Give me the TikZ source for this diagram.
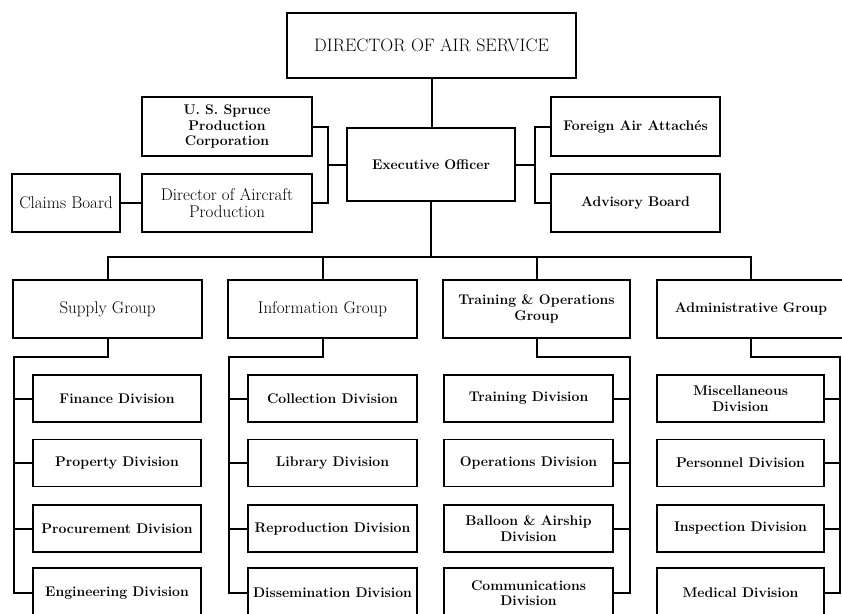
\documentclass[tikz,border=0pt]{standalone}
\usepackage{fontspec}
\begin{document}
\begin{tikzpicture}[x=1pt,y=-1pt,
  bx/.style 2 args={draw, line width=1.3pt, minimum width=#1, minimum height=#2, align=center, inner sep=2pt},
  bf/.style={font=\fontsize{14}{15.5}\selectfont\bfseries},
  rm/.style={font=\fontsize{17}{17}\selectfont},
  ln/.style={line width=2pt}]
\useasboundingbox (0,0) rectangle (842,613);
\clip (0,0) rectangle (842,613);
% top
\node[bx={289pt}{65pt}, font=\fontsize{18}{20}\selectfont] (dir) at (431.5,45.5) {DIRECTOR OF AIR SERVICE};
\node[bx={168pt}{73pt}, bf] (exec) at (431,164.5) {Executive Officer};
\node[bx={170pt}{59pt}, bf] (spruce) at (227,126.5) {U. S. Spruce\\Production\\Corporation};
\node[bx={170pt}{58pt}, rm] (dap) at (227,203) {Director of Aircraft\\Production};
\node[bx={108pt}{58pt}, rm] (claims) at (66,203) {Claims Board};
\node[bx={169pt}{59pt}, bf] (foreign) at (635.5,126.5) {Foreign Air Attachés};
\node[bx={169pt}{58pt}, bf] (adv) at (635.5,203) {Advisory Board};
% groups
\node[bx={189pt}{58pt}, rm] (supply) at (107.5,309) {Supply Group};
\node[bx={189pt}{58pt}, rm] (info) at (322.5,309) {Information Group};
\node[bx={187pt}{58pt}, bf] (tog) at (536.5,309) {Training \& Operations\\Group};
\node[bx={188pt}{58pt}, bf] (admin) at (751,309) {Administrative Group};
% supply divisions
\node[bx={168pt}{47pt}, bf] (fin) at (117,398.5) {Finance Division};
\node[bx={168pt}{47pt}, bf] (prop) at (117,463) {Property Division};
\node[bx={168pt}{47pt}, bf] (proc) at (117,528.5) {Procurement Division};
\node[bx={168pt}{50pt}, bf] (eng) at (117,593) {Engineering Division};
% info divisions
\node[bx={169pt}{47pt}, bf] (coll) at (332.5,398.5) {Collection Division};
\node[bx={169pt}{47pt}, bf] (lib) at (332.5,463) {Library Division};
\node[bx={169pt}{47pt}, bf] (repr) at (332.5,528.5) {Reproduction Division};
\node[bx={169pt}{50pt}, bf] (diss) at (332.5,593) {Dissemination Division};
% training & operations divisions
\node[bx={169pt}{47pt}, bf] (train) at (528.5,398.5) {Training Division};
\node[bx={169pt}{47pt}, bf] (oper) at (528.5,463) {Operations Division};
\node[bx={169pt}{47pt}, bf] (ball) at (528.5,528.5) {Balloon \& Airship\\Division};
\node[bx={169pt}{50pt}, bf] (comm) at (528.5,593) {Communications\\Division};
% administrative divisions
\node[bx={167pt}{47pt}, bf] (misc) at (740.5,398.5) {Miscellaneous\\Division};
\node[bx={167pt}{47pt}, bf] (pers) at (740.5,463) {Personnel Division};
\node[bx={167pt}{47pt}, bf] (insp) at (740.5,528.5) {Inspection Division};
\node[bx={167pt}{50pt}, bf] (med) at (740.5,593) {Medical Division};
% connectors top
\draw[ln] (dir.south) -- (dir.south |- exec.north);
\coordinate (lbx) at (328,164.5);
\coordinate (rbx) at (535,164.5);
\draw[ln] (spruce.east) -| (lbx) |- (dap.east);
\draw[ln] (lbx) -- (exec.west);
\draw[ln] (foreign.west) -| (rbx) |- (adv.west);
\draw[ln] (rbx) -- (exec.east);
\draw[ln] (claims.east) -- (dap.west);
% bus
\coordinate (bus) at (431,257);
\draw[ln] (exec.south) -- (bus);
\draw[ln] (supply.north) |- (bus) -| (admin.north);
\draw[ln] (info.north) -- (info.north |- bus);
\draw[ln] (tog.north) -- (tog.north |- bus);
% sub-buses
\coordinate (sbus) at (14,357);
\coordinate (ibus) at (229,357);
\coordinate (tbus) at (630,357);
\coordinate (abus) at (840,357);
\draw[ln] (supply.south) |- (sbus) |- (eng.west);
\foreach \n in {fin,prop,proc} \draw[ln] (\n.west) -- (\n.west -| sbus);
\draw[ln] (info.south) |- (ibus) |- (diss.west);
\foreach \n in {coll,lib,repr} \draw[ln] (\n.west) -- (\n.west -| ibus);
\draw[ln] (tog.south) |- (tbus) |- (comm.east);
\foreach \n in {train,oper,ball} \draw[ln] (\n.east) -- (\n.east -| tbus);
\draw[ln] (admin.south) |- (abus) |- (med.east);
\foreach \n in {misc,pers,insp} \draw[ln] (\n.east) -- (\n.east -| abus);
\end{tikzpicture}
\end{document}
